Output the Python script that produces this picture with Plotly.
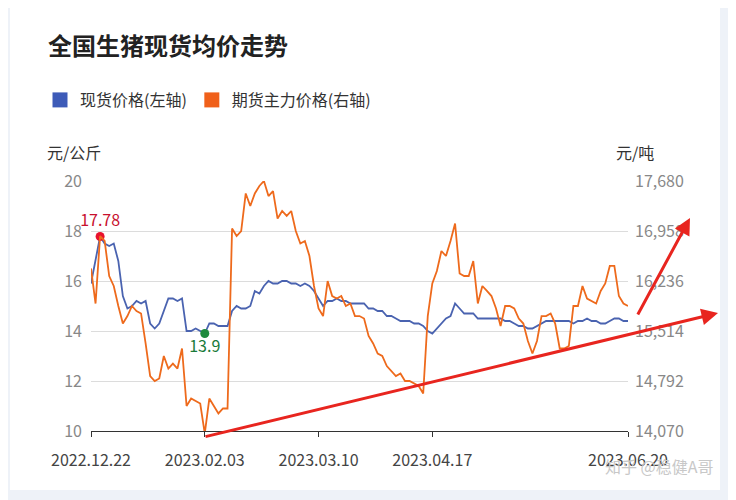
import plotly.graph_objects as go

spot = [15.9,16.8,17.78,17.5,17.4,17.5,16.8,15.4,14.9,15.0,15.2,15.1,15.2,14.3,14.1,14.3,14.8,15.3,15.3,15.2,
        15.3,14.0,14.0,14.1,14.0,13.9,14.3,14.3,14.2,14.2,14.2,14.8,15.0,14.9,14.9,15.0,15.6,15.5,15.8,16.0,
        15.9,15.9,16.0,16.0,15.9,15.9,15.8,15.9,15.8,15.6,15.3,15.0,15.2,15.2,15.3,15.2,15.2,15.1,15.1,15.1,
        15.1,14.9,14.9,14.8,14.8,14.6,14.6,14.5,14.4,14.4,14.4,14.3,14.3,14.2,14.0,13.9,14.1,14.3,14.5,14.6,
        15.1,14.9,14.7,14.7,14.7,14.5,14.5,14.5,14.5,14.5,14.5,14.4,14.4,14.3,14.2,14.2,14.1,14.1,14.2,14.3,
        14.4,14.4,14.4,14.4,14.4,14.4,14.3,14.4,14.4,14.5,14.4,14.4,14.3,14.3,14.4,14.5,14.5,14.4,14.4]
futures = [16417,15911,16886,16814,16308,16164,15875,15622,15730,15875,15803,15767,15334,14864,14792,14828,15153,14972,15044,14972,
           15261,14431,14539,14503,14467,14034,14539,14431,14323,14395,14395,16994,16886,16958,17500,17319,17500,17608,17680,17463,
           17535,17138,17247,17175,17247,16958,16777,16814,16597,16164,15839,15730,16236,16019,15983,16019,15875,15911,15730,15730,
           15694,15442,15334,15189,15153,15008,14936,14864,14900,14792,14792,14756,14720,14611,15730,16200,16380,16669,16597,16814,
           17066,16344,16308,16308,16525,15911,16164,16092,16019,15839,15586,15875,15875,15839,15694,15622,15370,15189,15370,15730,
           15730,15767,15622,15261,15261,15297,15875,15875,16164,15983,15947,15911,16092,16200,16453,16453,16019,15911,15875]
day_idx = list(range(len(spot)))
tick_idx = [0, 25, 50, 75, 118]
tick_labels = ["2022.12.22", "2023.02.03", "2023.03.10", "2023.04.17", "2023.06.20"]
left_ticks = [10, 12, 14, 16, 18, 20]
right_ticks = [14070, 14792, 15514, 16236, 16958, 17680]

BLUE = "#4a63b0"; ORANGE = "#ee6a1c"; FONT = "Noto Sans CJK SC"

# page-pixel helpers (plot area spans x 91..628, y 181..431 in the page)
def px(x): return (x - 91) / 537
def py(y): return (431 - y) / 250

fig = go.Figure()
fig.add_trace(go.Scatter(x=day_idx, y=spot, mode="lines", showlegend=False,
                         line=dict(color=BLUE, width=1.8)))
fig.add_trace(go.Scatter(x=day_idx[:len(futures)], y=futures, mode="lines", showlegend=False,
                         line=dict(color=ORANGE, width=1.8), yaxis="y2"))
fig.add_trace(go.Scatter(x=[None], y=[None], mode="markers", name="现货价格(左轴)",
                         marker=dict(color="#3d5bb8", size=15, symbol="square")))
fig.add_trace(go.Scatter(x=[None], y=[None], mode="markers", name="期货主力价格(右轴)",
                         marker=dict(color="#f0601a", size=15, symbol="square")))
imax = spot.index(max(spot)); imin = spot.index(min(spot))
fig.add_trace(go.Scatter(x=[imax], y=[spot[imax]], mode="markers+text", text=[f"{spot[imax]:g}"],
                         textposition="top center", textfont=dict(color="#c8102e", size=16),
                         marker=dict(color="#e8112d", size=9), showlegend=False, cliponaxis=False))
fig.add_trace(go.Scatter(x=[imin], y=[spot[imin]], mode="markers+text", text=[f"{spot[imin]:g}"],
                         textposition="bottom center", textfont=dict(color="#1a7a3a", size=16),
                         marker=dict(color="#1f8a3e", size=9), showlegend=False, cliponaxis=False))
fmin = futures.index(min(futures))
fig.add_trace(go.Scatter(x=[fmin], y=[futures[fmin]], mode="markers", yaxis="y2", cliponaxis=False,
                         marker=dict(color="#e8112d", size=9, symbol="triangle-down"), showlegend=False))

fig.update_layout(
    width=728, height=492, paper_bgcolor="white", plot_bgcolor="white",
    margin=dict(l=83, r=108, t=173, b=69),
    font=dict(family=FONT, color="#333"),
    title=dict(text="<b>全国生猪现货均价走势</b>", x=40/728, xanchor="left", y=1-39/492, yanchor="middle",
               font=dict(size=24, color="#222")),
    legend=dict(orientation="h", x=px(40), xanchor="left", y=py(100), yanchor="middle",
                font=dict(size=16, color="#333"), itemclick=False, tracegroupgap=0),
    xaxis=dict(range=[0, 118], tickmode="array", tickvals=tick_idx, ticktext=tick_labels,
               showgrid=False, zeroline=False, showline=True, linecolor="#333",
               ticks="outside", ticklen=5, tickcolor="#333", tickfont=dict(size=16, color="#444"),
               ticklabelstandoff=10),
    yaxis=dict(range=[10, 20], tickvals=left_ticks, showgrid=True, gridcolor="#dcdcdc",
               zeroline=False, tickfont=dict(size=16, color="#888"), ticklabelstandoff=8),
    yaxis2=dict(range=[14070, 17680], tickvals=right_ticks, overlaying="y", side="right",
                showgrid=False, zeroline=False, tickformat=",d", tickfont=dict(size=16, color="#888"),
                ticklabelstandoff=6),
    annotations=[
        dict(text="元/公斤", x=px(45), y=py(152), xref="paper", yref="paper", yanchor="middle",
             showarrow=False, font=dict(size=16)),
        dict(text="元/吨", x=px(656), y=py(152), xref="paper", yref="paper", yanchor="middle",
             showarrow=False, font=dict(size=16)),
        dict(x=px(718), y=py(313), ax=204-718, ay=437-313, xref="paper", yref="paper",
             showarrow=True, arrowhead=2, arrowsize=1.1, arrowwidth=3, arrowcolor="#e8251f", text=""),
        dict(x=px(690), y=py(218), ax=637-690, ay=316-218, xref="paper", yref="paper",
             showarrow=True, arrowhead=2, arrowsize=1.1, arrowwidth=3, arrowcolor="#e8251f", text=""),
        dict(text="知乎 @稳健A哥", x=px(715), y=py(466), xref="paper", yref="paper", showarrow=False,
             xanchor="right", yanchor="middle", font=dict(size=16, color="#c8c8c8")),
    ],
    shapes=[
        dict(type="rect", xref="paper", yref="paper", x0=px(720), x1=px(740), y0=py(505), y1=py(0),
             fillcolor="#eef2f8", line=dict(width=0), layer="below"),
        dict(type="rect", xref="paper", yref="paper", x0=px(0), x1=px(10), y0=py(505), y1=py(0),
             fillcolor="#eef2f8", line=dict(width=0), layer="below"),
        dict(type="rect", xref="paper", yref="paper", x0=px(0), x1=px(740), y0=py(505), y1=py(490),
             fillcolor="#eef2f8", line=dict(width=0), layer="below"),
    ],
)
fig.write_html("out.html")
